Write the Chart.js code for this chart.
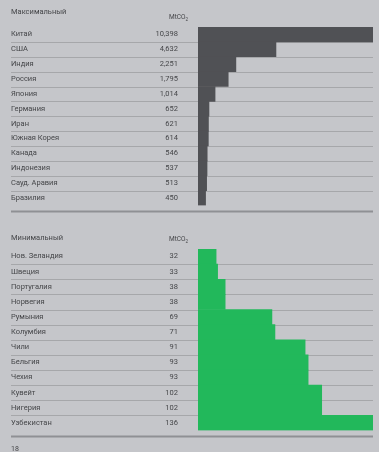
<!DOCTYPE html>
<html>
<head>
<meta charset="utf-8">
<script src="https://cdn.jsdelivr.net/npm/chart.js@4"></script>
<style>
  html, body { margin: 0; padding: 0; background: #c5c6ca; }
  body { width: 379px; height: 452px; position: relative; overflow: hidden;
         font-family: Roboto, 'Liberation Sans', sans-serif; color: #454649; }
  .block { position: absolute; left: 0; width: 379px; height: 222px; }
  .block canvas { position: absolute; left: 0; top: 0; }
  .title { position: absolute; left: 11px; font-size: 7.5px; }
  .unit { position: absolute; right: 191px; font-size: 6.5px; }
  .unit sub { font-size: 4.5px; }
  .page { position: absolute; left: 11px; top: 445px; font-size: 7px; }
</style>
</head>
<body>
<div class="block" style="top:0">
  <canvas id="maxChart" width="379" height="222"></canvas>
  <div class="title" style="top:7px">Максимальный</div>
  <div class="unit" style="top:13px">MtCO<sub>2</sub></div>
</div>
<div class="block" style="top:225px">
  <canvas id="minChart" width="379" height="222"></canvas>
  <div class="title" style="top:8px">Минимальный</div>
  <div class="unit" style="top:10px">MtCO<sub>2</sub></div>
</div>
<div class="page">18</div>

<script>
// крупнейшие эмитенты, млн т CO2
const maxCountries = ['Китай', 'США', 'Индия', 'Россия', 'Япония', 'Германия', 'Иран',
  'Южная Корея', 'Канада', 'Индонезия', 'Сауд. Аравия', 'Бразилия'];
const maxValues = [10398, 4632, 2251, 1795, 1014, 652, 621, 614, 546, 537, 513, 450];

// наименьшие эмитенты
const minCountries = ['Нов. Зеландия', 'Швеция', 'Португалия', 'Норвегия', 'Румыния', 'Колумбия',
  'Чили', 'Бельгия', 'Чехия', 'Кувейт', 'Нигерия', 'Узбекистан'];
const minValues = [32, 33, 38, 38, 69, 71, 91, 93, 93, 102, 102, 136];

const FONT = { family: "Roboto, 'Liberation Sans', sans-serif", size: 7.5 };
const TEXT = '#454649';
const LINE = '#a6a7aa';

const fmt = v => v.toLocaleString('en-US');

// линии между строками таблицы + жирная линия снизу
const rowLines = {
  id: 'rowLines',
  beforeDatasetsDraw(chart) {
    const { ctx, chartArea, scales } = chart;
    const y = scales.y;
    const left = 11, right = chartArea.right;
    ctx.save();
    ctx.strokeStyle = LINE;
    ctx.lineWidth = 1;
    for (let i = 1; i < y.ticks.length; i++) {
      const py = Math.round((y.getPixelForTick(i - 1) + y.getPixelForTick(i)) / 2) + 0.5;
      ctx.beginPath();
      ctx.moveTo(left, py);
      ctx.lineTo(right, py);
      ctx.stroke();
    }
    ctx.strokeStyle = '#8f9094';
    ctx.lineWidth = 2;
    const by = chartArea.bottom + 6;
    ctx.beginPath();
    ctx.moveTo(left, by);
    ctx.lineTo(right, by);
    ctx.stroke();
    ctx.restore();
  }
};

function makeChart(id, labels, values, color, xMin, top, bottom) {
  new Chart(document.getElementById(id), {
    type: 'bar',
    data: {
      labels,
      datasets: [{
        data: values,
        backgroundColor: color,
        borderWidth: 0,
        barPercentage: 1,
        categoryPercentage: 1,
      }],
    },
    options: {
      indexAxis: 'y',
      responsive: false,
      animation: false,
      layout: { padding: { left: 11, right: 6, top, bottom } },
      plugins: { legend: { display: false }, tooltip: { enabled: false } },
      scales: {
        x: {
          type: 'linear',
          display: false,
          min: xMin,
          max: Math.max(...values),
        },
        y: {
          position: 'left',
          weight: 2,
          offset: true,
          grid: { display: false },
          border: { display: false },
          afterFit: s => { s.width = 130; },
          ticks: { color: TEXT, font: FONT, crossAlign: 'far', padding: 0, autoSkip: false },
        },
        vals: {
          type: 'category',
          axis: 'y',
          position: 'left',
          weight: 1,
          offset: true,
          labels: values.map(fmt),
          grid: { display: false },
          border: { display: false },
          afterFit: s => { s.width = 57; },
          ticks: { color: TEXT, font: FONT, padding: 12, autoSkip: false },
        },
      },
    },
    plugins: [rowLines],
  });
}

makeChart('maxChart', maxCountries, maxValues, '#505155', 0, 27, 10);
makeChart('minChart', minCountries, minValues, '#22b85b', 20, 24, 14);
</script>
</body>
</html>
